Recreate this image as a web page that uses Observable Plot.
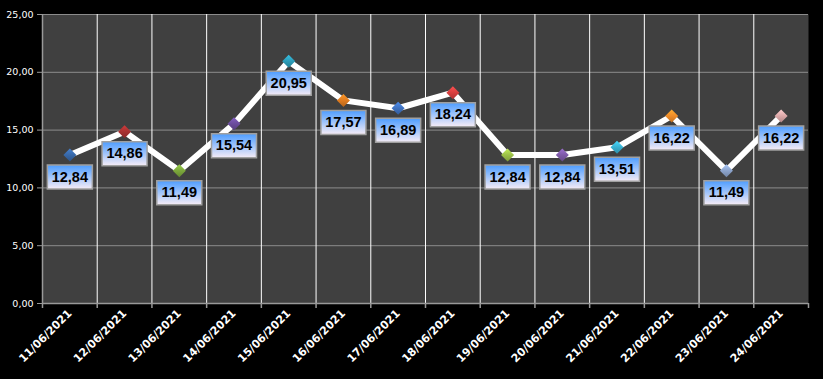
<!DOCTYPE html>
<html>
<head>
<meta charset="utf-8">
<script src="https://cdn.jsdelivr.net/npm/d3@7"></script>
<script src="https://cdn.jsdelivr.net/npm/@observablehq/plot@0.6"></script>
<style>
  html, body { margin: 0; padding: 0; background: #000; }
  #chart svg { display: block; }
</style>
</head>
<body>
<div id="chart"></div>
<script>
const dates = ["11/06/2021","12/06/2021","13/06/2021","14/06/2021","15/06/2021","16/06/2021","17/06/2021","18/06/2021","19/06/2021","20/06/2021","21/06/2021","22/06/2021","23/06/2021","24/06/2021"];
const values = [12.84, 14.86, 11.49, 15.54, 20.95, 17.57, 16.89, 18.24, 12.84, 12.84, 13.51, 16.22, 11.49, 16.22];
const markerColors = ["#3868a8","#a83030","#7ca83c","#6a4c9c","#2c9cb8","#e07c20","#3f72c0","#d84040","#9cc048","#7e5aa8","#38b0d0","#f08c28","#8ca4cc","#dca8a8"];
const yTicks = [0, 5, 10, 15, 20, 25];

const W = 823, H = 379;
const mL = 42, mR = 15, mT = 14, mB = 76;
const bw = (W - mL - mR) / dates.length;

const data = dates.map((date, i) => ({date, value: values[i], i}));
const fmt = v => v.toFixed(2).replace(".", ",");

const diamond = {draw(ctx) { ctx.moveTo(0, -6.5); ctx.lineTo(6.5, 0); ctx.lineTo(0, 6.5); ctx.lineTo(-6.5, 0); ctx.closePath(); }};
const box = {draw(ctx) { ctx.rect(-22.5, -12, 45, 24); }};

function defs() {
  const d = d3.create("svg:defs");
  const lg = d.append("linearGradient").attr("id", "lbl").attr("x1", 0).attr("y1", 0).attr("x2", 0).attr("y2", 1);
  lg.append("stop").attr("offset", "0%").attr("stop-color", "#4d9dff");
  lg.append("stop").attr("offset", "100%").attr("stop-color", "#f6ecf6");
  markerColors.forEach((c, i) => {
    const g = d.append("linearGradient").attr("id", "mk" + i).attr("x1", 0).attr("y1", 0).attr("x2", 0).attr("y2", 1);
    g.append("stop").attr("offset", "0%").attr("stop-color", d3.color(c).brighter(0.6).formatHex());
    g.append("stop").attr("offset", "50%").attr("stop-color", c);
    g.append("stop").attr("offset", "100%").attr("stop-color", d3.color(c).darker(0.6).formatHex());
  });
  return d.node();
}

const chart = Plot.plot({
  width: W, height: H,
  marginLeft: mL, marginRight: mR, marginTop: mT, marginBottom: mB,
  style: {background: "#000", color: "#fff", overflow: "visible"},
  x: {type: "band", domain: dates, padding: 0, round: false, label: null},
  y: {domain: [0, 25], label: null},
  color: {type: "identity"},
  marks: [
    defs,
    Plot.frame({fill: "#404040", stroke: null}),
    Plot.gridY(yTicks.slice(1), {stroke: "#8c8c8c", strokeOpacity: 1}),
    Plot.ruleX(dates.slice(1), {x: d => d, dx: -bw / 2, stroke: "#ffffff", strokeWidth: 1}),
    Plot.ruleX(dates.slice(0, 1), {x: d => d, dx: -bw / 2, stroke: "#999", strokeWidth: 1.5}),
    Plot.ruleY([0], {stroke: "#999", strokeWidth: 1.5}),
    Plot.ruleX(dates, {x: d => d, dx: -bw / 2, y1: 0, y2: 0, insetBottom: -5, stroke: "#999", strokeWidth: 1.5}),
    Plot.ruleX(dates.slice(-1), {x: d => d, dx: bw / 2, y1: 0, y2: 0, insetBottom: -5, stroke: "#999", strokeWidth: 1.5}),
    Plot.axisY({ticks: yTicks, tickFormat: fmt, tickSize: 5, tickPadding: 4, stroke: "#999", fill: "#fff", fontSize: 9.5, fontFamily: "DejaVu Sans"}),
    Plot.axisX({tickSize: 0, tickPadding: 8, tickRotate: -45, fill: "#fff", fontSize: 11, fontWeight: "bold", fontFamily: "DejaVu Sans"}),
    Plot.lineY(data, {x: "date", y: "value", stroke: "#fff", strokeWidth: 6, strokeLinejoin: "round"}),
    Plot.dot(data, {x: "date", y: "value", symbol: diamond, r: 6, fill: d => `url(#mk${d.i})`, stroke: null}),
    Plot.dot(data, {x: "date", y: "value", symbol: box, r: 6, dy: 22, fill: "url(#lbl)", stroke: "#a0a0a0", strokeWidth: 1.5}),
    Plot.text(data, {x: "date", y: "value", text: d => fmt(d.value), dy: 22, fill: "#000", fontSize: 14.5, fontWeight: "bold", fontFamily: "Liberation Sans"})
  ]
});
document.getElementById("chart").appendChild(chart);
</script>
</body>
</html>
